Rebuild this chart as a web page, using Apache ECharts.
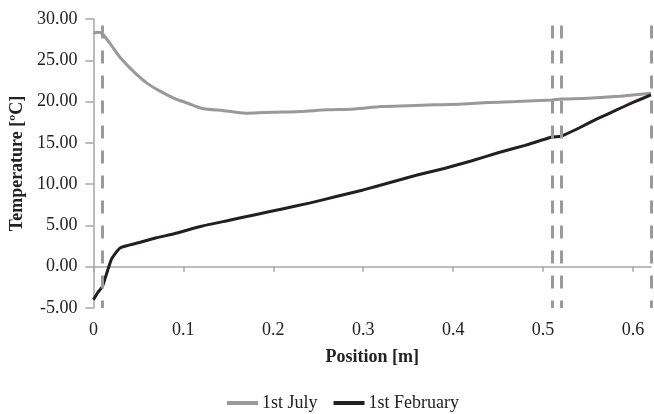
<!DOCTYPE html>
<html>
<head>
<meta charset="utf-8">
<script src="https://cdn.jsdelivr.net/npm/echarts@6/dist/echarts.min.js"></script>
<style>
  html, body { margin: 0; padding: 0; background: #fff; }
  #chart { width: 654px; height: 414px; }
</style>
</head>
<body>
<div id="chart"></div>
<script>
// Temperature profile through the wall section, two dates
const julyPos = [0, 0.005, 0.01, 0.02, 0.03, 0.045, 0.06, 0.075, 0.09, 0.105, 0.12, 0.145, 0.17, 0.2, 0.23, 0.26, 0.29, 0.32, 0.35, 0.38, 0.41, 0.44, 0.47, 0.51, 0.52, 0.55, 0.58, 0.6, 0.62];
const julyTemp = [28.3, 28.4, 28.2, 26.8, 25.3, 23.6, 22.2, 21.2, 20.4, 19.8, 19.2, 18.9, 18.6, 18.7, 18.8, 19.0, 19.1, 19.4, 19.5, 19.6, 19.7, 19.9, 20.0, 20.2, 20.3, 20.4, 20.6, 20.8, 21.0];

const febPos = [0, 0.005, 0.01, 0.02, 0.03, 0.05, 0.07, 0.09, 0.12, 0.15, 0.18, 0.21, 0.24, 0.27, 0.3, 0.33, 0.36, 0.39, 0.42, 0.45, 0.48, 0.51, 0.52, 0.54, 0.56, 0.58, 0.6, 0.62];
const febTemp = [-4.0, -3.1, -2.4, 0.9, 2.3, 2.9, 3.5, 4.0, 4.9, 5.6, 6.3, 7.0, 7.7, 8.5, 9.3, 10.2, 11.1, 11.9, 12.8, 13.8, 14.7, 15.7, 15.8, 16.8, 17.9, 18.9, 19.9, 20.8];

// Layer interfaces (m) and the height the dashed markers reach (°C)
const layerBounds = [0.01, 0.51, 0.52, 0.62];
const boundTop = 29.2;
const boundBottom = -5;

const seriesNames = ['1st July', '1st February'];
const xTicks = [0, 0.1, 0.2, 0.3, 0.4, 0.5, 0.6];

const FONT = '"Liberation Serif", "Times New Roman", serif';
const pair = (xs, ys) => xs.map((x, i) => [x, ys[i]]);

const chart = echarts.init(document.getElementById('chart'), null, { renderer: 'canvas' });

chart.setOption({
  animation: false,
  backgroundColor: '#ffffff',
  textStyle: { fontFamily: FONT },
  grid: { left: 90, right: 3, top: 19, bottom: 106, containLabel: false },
  legend: {
    top: 389,
    left: 222,
    itemWidth: 31,
    itemHeight: 4,
    itemGap: 16,
    icon: 'rect',
    data: seriesNames,
    textStyle: { fontFamily: FONT, fontSize: 18, color: '#222', padding: [0, 0, 0, -1] }
  },
  xAxis: {
    type: 'value',
    min: 0,
    max: 0.62,
    interval: 0.1,
    name: 'Position [m]',
    nameLocation: 'middle',
    nameGap: 40,
    nameTextStyle: { fontFamily: FONT, fontSize: 18, fontWeight: 'bold', color: '#222' },
    axisLine: { show: true, lineStyle: { color: '#a6a6a6', width: 1.5 } },
    axisTick: { show: true, length: 5, lineStyle: { color: '#a6a6a6', width: 1.5 } },
    splitLine: { show: false },
    axisLabel: {
      showMaxLabel: false,
      margin: 13,
      fontFamily: FONT, fontSize: 18, color: '#222',
      formatter: v => (xTicks.some(t => Math.abs(t - v) < 1e-9) ? String(+v.toFixed(1)) : '')
    }
  },
  yAxis: {
    type: 'value',
    min: -5,
    max: 30,
    interval: 5,
    name: 'Temperature [ºC]',
    nameLocation: 'middle',
    nameGap: 61,
    nameRotate: 90,
    nameTextStyle: { fontFamily: FONT, fontSize: 18, fontWeight: 'bold', color: '#222' },
    axisLine: { show: true, lineStyle: { color: '#a6a6a6', width: 1.5 } },
    axisTick: { show: true, inside: false, length: 8, lineStyle: { color: '#a6a6a6', width: 1.5 } },
    splitLine: { show: false },
    axisLabel: {
      margin: 16,
      fontFamily: FONT, fontSize: 18, color: '#222',
      formatter: v => v.toFixed(2)
    }
  },
  series: [
    {
      name: seriesNames[0],
      type: 'line',
      data: pair(julyPos, julyTemp),
      showSymbol: false,
      symbol: 'none',
      smooth: 0.3,
      color: '#999999',
      lineStyle: { color: '#999999', width: 3 },
      z: 3,
      markLine: {
        silent: true,
        symbol: ['none', 'none'],
        label: { show: false },
        lineStyle: { color: '#9a9a9a', width: 3, type: [13, 12], cap: 'butt' },
        data: layerBounds.map(b => [{ coord: [b, boundTop] }, { coord: [b, boundBottom] }])
      }
    },
    {
      name: seriesNames[1],
      type: 'line',
      data: pair(febPos, febTemp),
      showSymbol: false,
      symbol: 'none',
      smooth: 0.15,
      color: '#231f20',
      lineStyle: { color: '#231f20', width: 3 },
      z: 4
    }
  ]
});
</script>
</body>
</html>
